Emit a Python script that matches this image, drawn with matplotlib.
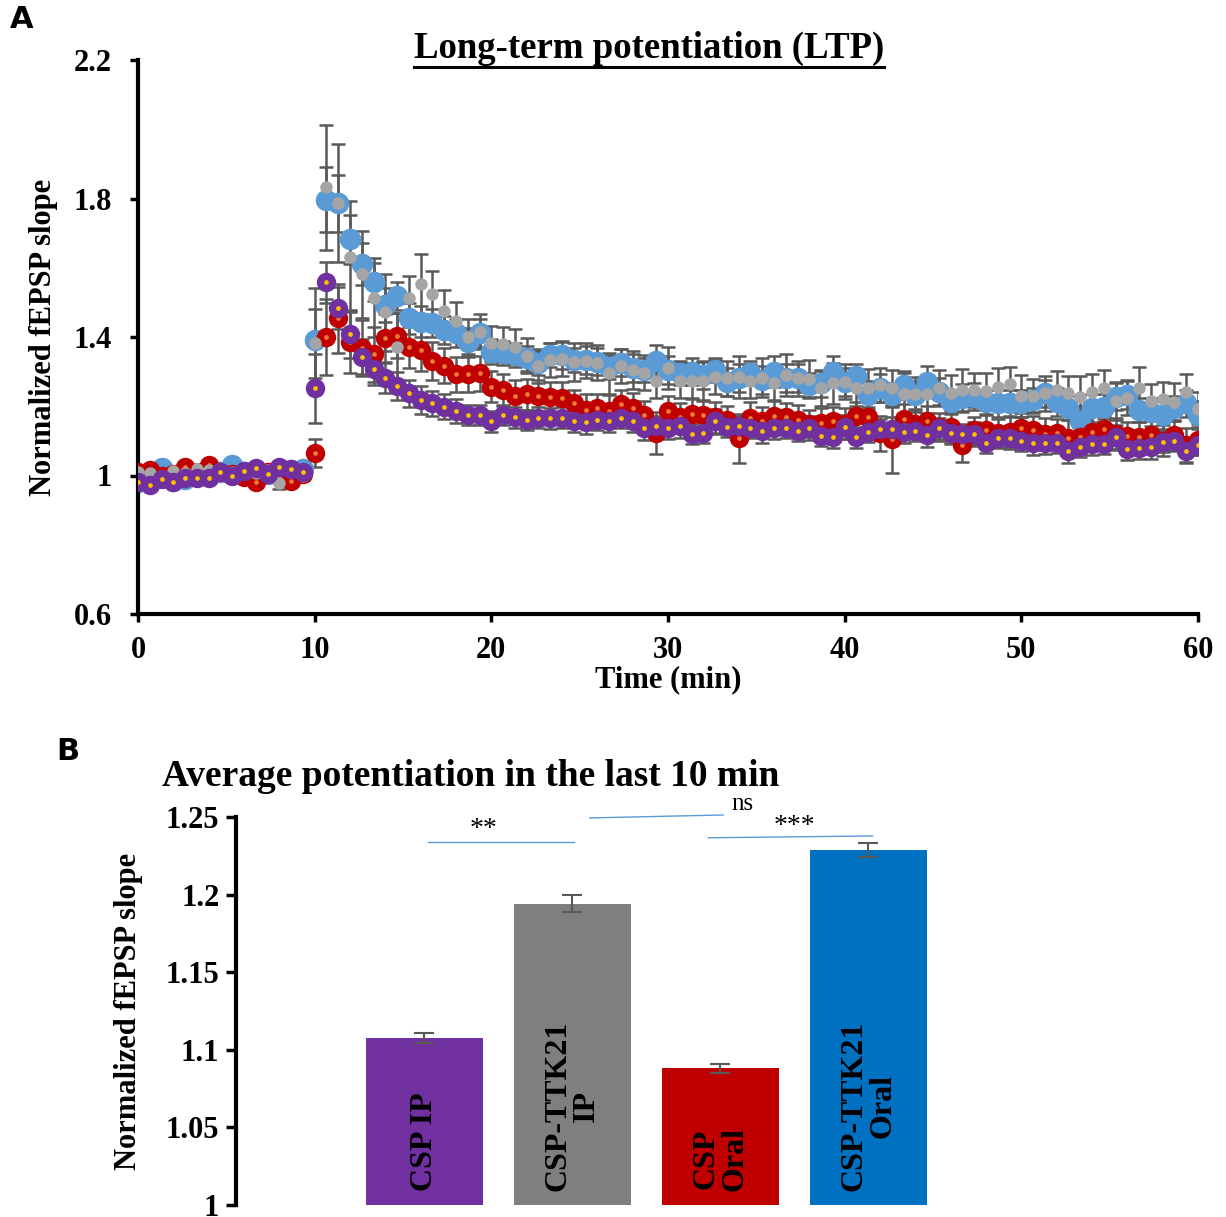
import numpy as np
import matplotlib
matplotlib.use("Agg")
import matplotlib.pyplot as plt
from matplotlib.lines import Line2D

plt.rcParams['font.family'] = ['Liberation Serif', 'DejaVu Serif']

# ---- panel A: LTP time course, one sample every 40 s ----
time_min = np.arange(91) * 40 / 60

csp_ip = [0.980, 0.974, 0.990, 0.980, 0.992, 0.992, 0.992, 1.009, 0.999, 1.013, 1.023, 1.005, 1.024, 1.020, 1.011,
          1.252, 1.558, 1.483, 1.408, 1.343, 1.307, 1.282, 1.259, 1.237, 1.218, 1.208, 1.199, 1.186, 1.175, 1.175,
          1.157, 1.175, 1.168, 1.160, 1.167, 1.165,
          1.167, 1.156, 1.154, 1.160, 1.156, 1.167, 1.157, 1.138, 1.143, 1.136, 1.143, 1.120, 1.124, 1.156, 1.141,
          1.143, 1.138, 1.129, 1.136, 1.138,
          1.129, 1.138, 1.114, 1.110, 1.141, 1.110, 1.126, 1.133, 1.134, 1.125, 1.129, 1.118, 1.136, 1.122, 1.120,
          1.120, 1.095, 1.109, 1.107,
          1.100, 1.093, 1.093, 1.095, 1.071, 1.083, 1.090, 1.092, 1.111, 1.076, 1.079, 1.083, 1.098, 1.101, 1.071,
          1.088]
csp_ip_err = [0.012, 0.012, 0.010, 0.012, 0.010, 0.010, 0.012, 0.010, 0.012, 0.010, 0.012, 0.010, 0.012, 0.010, 0.012,
              0.10, 0.06, 0.06, 0.07, 0.05, 0.045, 0.045, 0.04, 0.04, 0.04, 0.035, 0.035, 0.035, 0.03, 0.03,
              0.03, 0.03, 0.03, 0.03, 0.03, 0.03,
              0.03, 0.03, 0.035, 0.03, 0.03, 0.03, 0.03, 0.035, 0.03, 0.03, 0.035, 0.03, 0.03, 0.035, 0.03,
              0.03, 0.03, 0.035, 0.03, 0.03,
              0.03, 0.035, 0.03, 0.03, 0.035, 0.03, 0.03, 0.03, 0.035, 0.03, 0.03, 0.035, 0.03, 0.03, 0.03,
              0.035, 0.03, 0.03, 0.03,
              0.03, 0.035, 0.03, 0.03, 0.035, 0.03, 0.03, 0.03, 0.035, 0.03, 0.03, 0.035, 0.03, 0.03, 0.035,
              0.03]

csp_oral = [1.011, 1.016, 1.000, 1.005, 1.025, 1.008, 1.030, 1.010, 1.005, 0.995, 0.982, 1.010, 1.000, 0.985, 1.005,
            1.064, 1.401, 1.454, 1.385, 1.368, 1.350, 1.396, 1.403, 1.370, 1.362, 1.332, 1.317, 1.292, 1.292, 1.295,
            1.256, 1.247, 1.230, 1.235, 1.230, 1.226,
            1.225, 1.208, 1.190, 1.194, 1.187, 1.206, 1.194, 1.175, 1.122, 1.186, 1.170, 1.177, 1.175, 1.168, 1.160,
            1.107, 1.167, 1.157, 1.173, 1.170,
            1.160, 1.150, 1.151, 1.158, 1.150, 1.173, 1.168, 1.122, 1.105, 1.162, 1.150, 1.156, 1.140, 1.139, 1.088,
            1.130, 1.131, 1.122, 1.126,
            1.136, 1.131, 1.120, 1.124, 1.109, 1.112, 1.127, 1.133, 1.120, 1.115, 1.110, 1.117, 1.100, 1.117, 1.088,
            1.103]
csp_oral_err = [0.015, 0.015, 0.012, 0.015, 0.015, 0.012, 0.015, 0.015, 0.012, 0.015, 0.015, 0.012, 0.015, 0.015, 0.012,
                0.04, 0.11, 0.10, 0.09, 0.08, 0.08, 0.07, 0.065, 0.06, 0.06, 0.055, 0.05, 0.05, 0.05, 0.05,
                0.045, 0.045, 0.045, 0.045, 0.045, 0.045,
                0.045, 0.04, 0.045, 0.04, 0.045, 0.04, 0.045, 0.04, 0.06, 0.045, 0.04, 0.045, 0.04, 0.045, 0.04,
                0.072, 0.045, 0.04, 0.045, 0.04,
                0.045, 0.04, 0.045, 0.04, 0.045, 0.04, 0.045, 0.05, 0.097, 0.045, 0.04, 0.045, 0.04, 0.045, 0.05,
                0.04, 0.045, 0.04, 0.045,
                0.045, 0.04, 0.045, 0.04, 0.05, 0.04, 0.045, 0.04, 0.045, 0.04, 0.045, 0.04, 0.045, 0.04, 0.05,
                0.045]

ttk21_oral = [0.980, 0.990, 1.022, 0.985, 0.990, 1.000, 1.005, 1.010, 1.030, 1.010, 1.015, 1.005, 1.010, 1.015, 1.020,
              1.391, 1.796, 1.786, 1.682, 1.611, 1.560, 1.492, 1.519, 1.454, 1.444, 1.441, 1.420, 1.411, 1.386, 1.411,
              1.358, 1.353, 1.348, 1.338, 1.324, 1.348,
              1.348, 1.334, 1.334, 1.329, 1.314, 1.326, 1.310, 1.305, 1.331, 1.305, 1.295, 1.300, 1.290, 1.305, 1.271,
              1.281, 1.295, 1.276, 1.300, 1.281,
              1.281, 1.261, 1.266, 1.300, 1.271, 1.287, 1.232, 1.252, 1.232, 1.261, 1.232, 1.271, 1.242, 1.213, 1.223,
              1.228, 1.213, 1.208, 1.208,
              1.208, 1.218, 1.237, 1.213, 1.194, 1.156, 1.194, 1.199, 1.228, 1.232, 1.189, 1.184, 1.175, 1.194, 1.208,
              1.175]
ttk21_oral_err = [0.015, 0.012, 0.015, 0.015, 0.012, 0.015, 0.015, 0.012, 0.015, 0.015, 0.012, 0.015, 0.015, 0.012, 0.015,
                  0.15, 0.094, 0.082, 0.07, 0.06, 0.055, 0.05, 0.04, 0.045, 0.045, 0.04, 0.04, 0.04, 0.04, 0.04,
                  0.035, 0.035, 0.035, 0.035, 0.035, 0.035,
                  0.04, 0.035, 0.04, 0.04, 0.035, 0.04, 0.04, 0.035, 0.045, 0.04, 0.035, 0.04, 0.04, 0.035, 0.04,
                  0.04, 0.035, 0.04, 0.045, 0.04,
                  0.04, 0.035, 0.04, 0.045, 0.04, 0.035, 0.04, 0.04, 0.035, 0.04, 0.04, 0.045, 0.04, 0.035, 0.04,
                  0.04, 0.035, 0.04, 0.04,
                  0.04, 0.035, 0.04, 0.04, 0.035, 0.045, 0.04, 0.035, 0.04, 0.04, 0.035, 0.04, 0.04, 0.035, 0.04,
                  0.04]

ttk21_ip = [1.010, 1.006, 1.000, 1.012, 1.008, 1.020, 1.015, 1.000, 1.010, 1.012, 1.008, 1.015, 0.977, 1.010, 1.000,
            1.382, 1.832, 1.788, 1.632, 1.581, 1.514, 1.471, 1.370, 1.514, 1.553, 1.523, 1.476, 1.446, 1.401, 1.415,
            1.382, 1.379, 1.372, 1.346, 1.316, 1.334,
            1.336, 1.329, 1.332, 1.326, 1.295, 1.316, 1.305, 1.297, 1.274, 1.310, 1.274, 1.274, 1.274, 1.284, 1.281,
            1.284, 1.273, 1.283, 1.266, 1.290,
            1.281, 1.278, 1.252, 1.266, 1.271, 1.252, 1.252, 1.261, 1.254, 1.235, 1.234, 1.235, 1.254, 1.239, 1.247,
            1.247, 1.245, 1.256, 1.264,
            1.230, 1.230, 1.237, 1.247, 1.237, 1.228, 1.242, 1.254, 1.216, 1.225, 1.254, 1.215, 1.220, 1.213, 1.242,
            1.191]
ttk21_ip_err = [0.015, 0.015, 0.012, 0.015, 0.015, 0.012, 0.015, 0.015, 0.012, 0.015, 0.015, 0.012, 0.015, 0.015, 0.012,
                0.10, 0.18, 0.17, 0.16, 0.126, 0.113, 0.11, 0.10, 0.063, 0.087, 0.068, 0.06, 0.055, 0.05, 0.05,
                0.05, 0.05, 0.05, 0.05, 0.05, 0.05,
                0.05, 0.055, 0.05, 0.05, 0.06, 0.05, 0.055, 0.05, 0.05, 0.06, 0.05, 0.05, 0.055, 0.05, 0.05,
                0.06, 0.05, 0.055, 0.05, 0.06,
                0.05, 0.055, 0.05, 0.06, 0.05, 0.05, 0.055, 0.05, 0.05, 0.06, 0.05, 0.055, 0.05, 0.05, 0.06,
                0.05, 0.05, 0.055, 0.05,
                0.06, 0.05, 0.05, 0.055, 0.05, 0.06, 0.05, 0.05, 0.055, 0.05, 0.06, 0.05, 0.05, 0.055, 0.05,
                0.05]

a_xticks = [0, 10, 20, 30, 40, 50, 60]
a_yticks = [0.6, 1.0, 1.4, 1.8, 2.2]
a_ytick_labels = ['0.6', '1', '1.4', '1.8', '2.2']

# ---- panel B: average potentiation, last 10 min ----
groups = ['CSP IP', 'CSP-TTK21\nIP', 'CSP\nOral', 'CSP-TTK21\nOral']
group_means = [1.1076, 1.1940, 1.0880, 1.2290]
group_sem = [0.0035, 0.0055, 0.0028, 0.0045]
group_colors = ['#7030A0', '#7F7F7F', '#C00000', '#0070C0']
b_yticks = [1.0, 1.05, 1.1, 1.15, 1.2, 1.25]
b_ytick_labels = ['1', '1.05', '1.1', '1.15', '1.2', '1.25']

W, H = 1226, 1217
fig = plt.figure(figsize=(W / 100, H / 100), dpi=100)


def px_axes(x0, y0, x1, y1):
    return fig.add_axes([x0 / W, 1 - y1 / H, (x1 - x0) / W, (y1 - y0) / H])


bold = dict(fontweight='bold')

# ================= panel A =================
ax = px_axes(138, 60, 1198, 614)
err_kw = dict(fmt='none', ecolor='#595959', elinewidth=1.8, capsize=5, capthick=1.8, zorder=1)
ax.errorbar(time_min, ttk21_oral, yerr=ttk21_oral_err, **err_kw)
ax.errorbar(time_min, csp_oral, yerr=csp_oral_err, **err_kw)
ax.errorbar(time_min, ttk21_ip, yerr=ttk21_ip_err, **err_kw)
ax.errorbar(time_min, csp_ip, yerr=csp_ip_err, **err_kw)

ax.plot(time_min, ttk21_oral, 'o', ms=15.5, color='#5B9BD5', mec='none', zorder=2)
ax.plot(time_min, csp_oral, 'o', ms=14, color='#C00000', mec='none', zorder=3)
ax.plot(time_min, csp_oral, 'o', ms=3.4, color='#ED7D31', mec='none', zorder=3.1)
ax.plot(time_min, ttk21_ip, 'o', ms=9, color='#A5A5A5', mec='none', zorder=4)
ax.plot(time_min, csp_ip, 'o', ms=14, color='#7030A0', mec='none', zorder=5)
ax.plot(time_min, csp_ip, 'o', ms=3.4, color='#FFC000', mec='none', zorder=5.1)

ax.set_xlim(0, 60)
ax.set_ylim(0.6, 2.2)
ax.set_xticks(a_xticks)
ax.set_xticklabels([str(t) for t in a_xticks], fontsize=22, **bold)
ax.set_yticks(a_yticks)
ax.set_yticklabels(a_ytick_labels, fontsize=22, **bold)
ax.tick_params(axis='both', length=6, width=2.5, direction='out')
ax.tick_params(axis='y', pad=13)
ax.tick_params(axis='x', pad=10)
for s in ['top', 'right']:
    ax.spines[s].set_visible(False)
for s in ['left', 'bottom']:
    ax.spines[s].set_linewidth(3)
ax.set_xlabel('Time (min)', fontsize=22, **bold)
ax.xaxis.set_label_coords(0.5, -0.093)
ax.set_ylabel('Normalized fEPSP slope', fontsize=22, **bold)
ax.yaxis.set_label_coords(-0.075, 0.5)

fig.text(22 / W, 1 - 20 / H, 'A', fontsize=22, fontweight='bold', family='DejaVu Sans',
         ha='center', va='center')
title_a = fig.text(649 / W, 1 - 48 / H, 'Long-term potentiation (LTP)', fontsize=26.5, **bold,
                   ha='center', va='center')
fig.canvas.draw()
bb = title_a.get_window_extent(fig.canvas.get_renderer())
fig.add_artist(Line2D([bb.x0 / W, bb.x1 / W], [1 - 67 / H, 1 - 67 / H], color='black', lw=2.2))

# ================= panel B =================
axb = px_axes(236, 817, 960, 1205)
xpos = np.arange(len(groups))
axb.bar(xpos, np.array(group_means) - 1.0, bottom=1.0, width=0.79, color=group_colors, zorder=2)
axb.errorbar(xpos, group_means, yerr=group_sem, fmt='none', ecolor='#595959', elinewidth=1.5,
             capsize=7, capthick=1.5, zorder=3)
for xi, name in zip(xpos, groups):
    axb.text(xi, 1.009, name, rotation=90, ha='center', va='bottom', fontsize=23, **bold,
             linespacing=1.0, zorder=4)

axb.set_xlim(-1.27, 3.62)
axb.set_ylim(1.0, 1.25)
axb.set_xticks([])
axb.set_yticks(b_yticks)
axb.set_yticklabels(b_ytick_labels, fontsize=22, **bold)
axb.tick_params(axis='y', length=7, width=2.5, pad=5)
for s in ['top', 'right', 'bottom']:
    axb.spines[s].set_visible(False)
axb.spines['left'].set_linewidth(3)
axb.set_ylabel('Normalized fEPSP slope', fontsize=22, **bold)
axb.yaxis.set_label_coords(-0.128, 0.5)

# significance brackets
sig_color = '#5B9BD5'
axb.plot([0.03, 1.01], [1.2340, 1.2340], color=sig_color, lw=1, clip_on=False)
axb.text(0.40, 1.2336, '**', fontsize=20, ha='center', va='bottom')
axb.plot([1.12, 2.02], [1.2494, 1.2513], color=sig_color, lw=1, clip_on=False)
axb.text(2.15, 1.2514, 'ns', fontsize=18, ha='center', va='bottom')
axb.plot([1.92, 3.03], [1.2366, 1.2378], color=sig_color, lw=1, clip_on=False)
axb.text(2.50, 1.2360, '***', fontsize=20, ha='center', va='bottom')

fig.text(68 / W, 1 - 751 / H, 'B', fontsize=22, fontweight='bold', family='DejaVu Sans',
         ha='center', va='center')
fig.text(471 / W, 1 - 777 / H, 'Average potentiation in the last 10 min', fontsize=27, **bold,
         ha='center', va='center')

fig.savefig('out.png', dpi=100)
